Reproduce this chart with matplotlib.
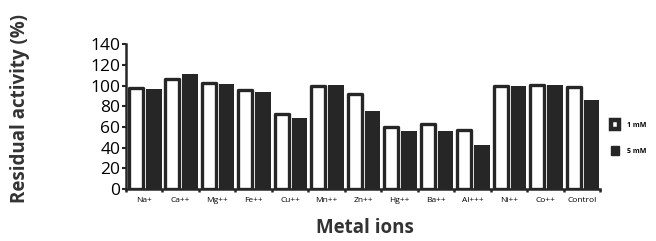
import matplotlib
matplotlib.use("Agg")
import matplotlib.pyplot as plt
import numpy as np
from matplotlib.patches import Patch

plt.rcParams['font.family'] = ['Open Sans', 'DejaVu Sans']

# Data
ions = ["Na+", "Ca++", "Mg++", "Fe++", "Cu++", "Mn++", "Zn++",
        "Hg++", "Ba++", "Al+++", "Ni++", "Co++", "Control"]
act_1mM = [98, 106, 103, 96, 73, 100, 92, 60, 63, 57, 100, 101, 99]
act_5mM = [97, 111, 102, 94, 69, 101, 75, 56, 56, 43, 100, 101, 86]
yticks = [0, 20, 40, 60, 80, 100, 120, 140]

dark = "#262626"

fig = plt.figure(figsize=(6.56, 2.41), dpi=100)
ax = fig.add_axes([0.192, 0.216, 0.723, 0.600])

x = np.arange(len(ions))
ax.bar(x + 0.27, act_1mM, width=0.38, color="white", edgecolor=dark,
       linewidth=2.4, joinstyle="round")
ax.bar(x + 0.76, act_5mM, width=0.43, color=dark, edgecolor=dark, linewidth=0)

ax.set_xlim(0, len(ions))
ax.set_ylim(0, 140)
ax.set_yticks(yticks)
ax.tick_params(axis="y", labelsize=12.5, width=1.5, length=3, color=dark, pad=1)

# boundary ticks between groups, labels in the middle
ax.set_xticks(np.arange(len(ions) + 1))
ax.set_xticklabels([])
ax.tick_params(axis="x", which="major", width=1.8, length=2.5, color=dark)
ax.set_xticks(x + 0.5, minor=True)
ax.set_xticklabels(ions, minor=True, fontsize=6)
ax.tick_params(axis="x", which="minor", length=0, pad=6)

for s in ["top", "right"]:
    ax.spines[s].set_visible(False)
for s in ["left", "bottom"]:
    ax.spines[s].set_linewidth(1.8)
    ax.spines[s].set_color(dark)

fig.text(0.03, 0.55, "Residual activity (%)", rotation=90, ha="center",
         va="center", fontsize=13.5, fontweight="bold", color="#333333")
fig.text(0.556, 0.055, "Metal ions", ha="center", va="center",
         fontsize=13.5, fontweight="bold", color="#333333")

handles = [Patch(facecolor="white", edgecolor=dark, linewidth=3.2, label="1 mM"),
           Patch(facecolor=dark, edgecolor=dark, label="5 mM")]
fig.legend(handles=handles, loc="center left", bbox_to_anchor=(0.922, 0.43),
           frameon=False, handlelength=1.2, handleheight=1.6,
           labelspacing=2.5, handletextpad=1.1, prop={"size": 5, "weight": "bold"})

fig.savefig("out.png", dpi=100)
